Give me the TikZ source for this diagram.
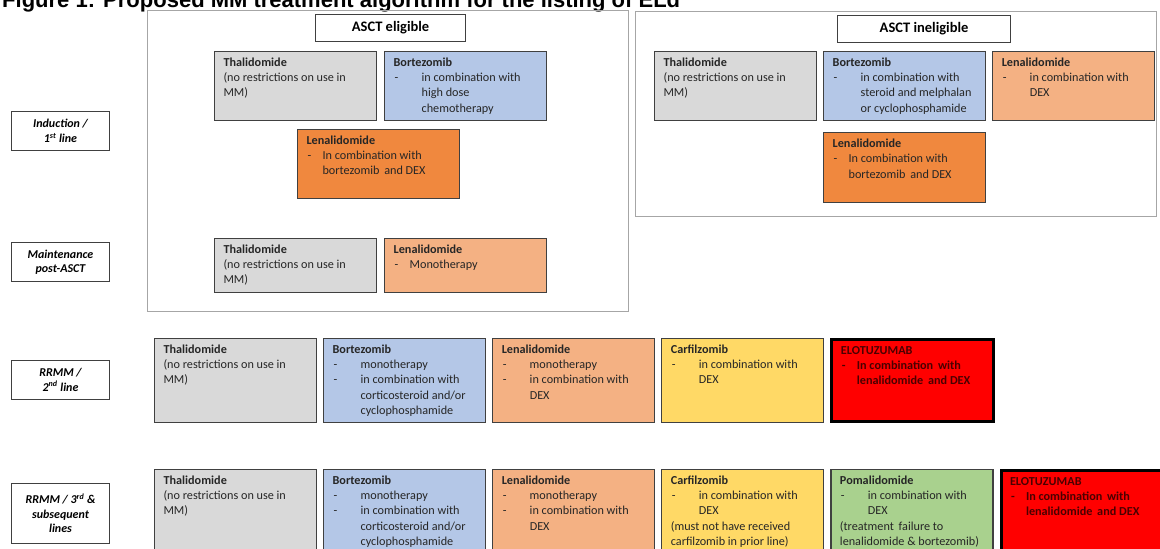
\documentclass[tikz,border=0pt]{standalone}
\usepackage{fontspec}
\setmainfont{Carlito}
\newfontfamily\titlefamily{Liberation Sans}
\usetikzlibrary{positioning}

\definecolor{thalgray}{HTML}{D9D9D9}
\definecolor{bortblue}{HTML}{B4C7E7}
\definecolor{lenlight}{HTML}{F4B183}
\definecolor{lendark}{HTML}{F0883E}
\definecolor{carfyellow}{HTML}{FFD966}
\definecolor{pomagreen}{HTML}{A9D18E}
\definecolor{elored}{HTML}{FF0000}
\definecolor{elotext}{HTML}{4A0000}
\definecolor{boxline}{HTML}{404040}
\definecolor{framegray}{HTML}{A6A6A6}
\definecolor{bodytext}{HTML}{262626}

% box contents: height, drug name, lines
\newcommand{\drug}[3]{\parbox[c][#1][t]{144pt}{\rule{0pt}{12pt}\textbf{#2}\\#3}}
\newcommand{\wideitem}[1]{\makebox[28pt][l]{\hspace{1pt}-}\mbox{#1}}
\newcommand{\wideline}[1]{\hspace*{28pt}\mbox{#1}}
\newcommand{\narrowitem}[1]{\makebox[16pt][l]{\hspace{1pt}-}\mbox{#1}}
\newcommand{\narrowline}[1]{\hspace*{16pt}\mbox{#1}}

\begin{document}
\begin{tikzpicture}[x=1pt,y=-1pt]
	% Define styles
	\tikzstyle{drugbox} = [rectangle, draw=boxline, line width=1.1pt, anchor=north west,
	inner xsep=9pt, inner ysep=3pt, text=bodytext, font=\fontsize{12.2}{15.2}\selectfont]
	\tikzstyle{thal} = [drugbox, fill=thalgray]
	\tikzstyle{bort} = [drugbox, fill=bortblue]
	\tikzstyle{lenl} = [drugbox, fill=lenlight]
	\tikzstyle{lend} = [drugbox, fill=lendark]
	\tikzstyle{carf} = [drugbox, fill=carfyellow]
	\tikzstyle{poma} = [drugbox, fill=pomagreen]
	\tikzstyle{elo} = [drugbox, fill=elored, draw=black, line width=3pt, text=elotext,
	font=\fontsize{12.2}{15.2}\selectfont\bfseries]
	\tikzstyle{stage} = [rectangle, draw=boxline, line width=1pt, anchor=north west,
	minimum width=98pt, align=center, font=\fontsize{12}{14.5}\selectfont\bfseries\itshape]
	\tikzstyle{header} = [rectangle, draw=boxline, line width=1.1pt, anchor=north west,
	minimum height=27pt, font=\fontsize{14.5}{16}\selectfont\bfseries]
	\tikzstyle{frame} = [rectangle, draw=framegray, line width=1.3pt, anchor=north west]
	
	% Page
	\fill[white] (0,0) rectangle (1160,549);
	\clip (0,0) rectangle (1160,549);
	
	% Title (cut at the top edge)
	\node[anchor=base west, inner sep=0pt, font=\titlefamily\bfseries\fontsize{22}{24}\selectfont]
	(title) at (2,7) {Figure 1: Proposed MM treatment algorithm for the listing of ELd};
	
	% Frames and headers
	\node[frame, minimum width=481pt, minimum height=301pt] (eligFrame) at (147,10) {};
	\node[frame, minimum width=521pt, minimum height=205pt] (inelFrame) at (635,11) {};
	\node[header, minimum width=150pt] (eligHead) at (315,14) {ASCT eligible};
	\node[header, minimum width=173pt] (inelHead) at (837,15) {ASCT ineligible};
	
	% Stages
	\node[stage, minimum height=39pt] (induction) at (11,111) {Induction /\\1\textsuperscript{st} line};
	\node[stage, minimum height=39pt] (maintenance) at (11,242) {Maintenance\\post-ASCT};
	\node[stage, minimum height=39pt] (second) at (11,360) {RRMM /\\2\textsuperscript{nd} line};
	\node[stage, minimum height=60pt] (third) at (11,483) {RRMM / 3\textsuperscript{rd} \&\\subsequent\\lines};
	
	% Induction, ASCT eligible
	\node[thal] (thalInd) at (214,51) {\drug{63pt}{Thalidomide}{(no restrictions on use in\\MM)}};
	\node[bort, right=7pt of thalInd] (bortInd) {\drug{63pt}{Bortezomib}{\wideitem{in combination with}\\
		\wideline{high dose}\\\wideline{chemotherapy}}};
	\node[lend] (lenInd) at (297,129) {\drug{63pt}{Lenalidomide}{\narrowitem{In combination with}\\
		\narrowline{bortezomib\, and DEX}}};
	
	% Induction, ASCT ineligible
	\node[thal] (thalInel) at (654,51) {\drug{63pt}{Thalidomide}{(no restrictions on use in\\MM)}};
	\node[bort, right=6pt of thalInel] (bortInel) {\drug{63pt}{Bortezomib}{\wideitem{in combination with}\\
		\wideline{steroid and melphalan}\\\wideline{or cyclophosphamide}}};
	\node[lenl, right=6pt of bortInel] (lenInel) {\drug{63pt}{Lenalidomide}{\wideitem{in combination with}\\
		\wideline{DEX}}};
	\node[lend, below=11pt of bortInel] (lenInelD) {\drug{64pt}{Lenalidomide}{\narrowitem{In combination with}\\
		\narrowline{bortezomib\, and DEX}}};
	
	% Maintenance
	\node[thal] (thalMnt) at (214,238) {\drug{48pt}{Thalidomide}{(no restrictions on use in\\MM)}};
	\node[lenl, right=7pt of thalMnt] (lenMnt) {\drug{48pt}{Lenalidomide}{\narrowitem{Monotherapy}}};
	
	% RRMM 2nd line
	\node[thal] (thalR2) at (154,338) {\drug{78pt}{Thalidomide}{(no restrictions on use in\\MM)}};
	\node[bort, right=6pt of thalR2] (bortR2) {\drug{78pt}{Bortezomib}{\wideitem{monotherapy}\\
		\wideitem{in combination with}\\\wideline{corticosteroid and/or}\\\wideline{cyclophosphamide}}};
	\node[lenl, right=6pt of bortR2] (lenR2) {\drug{78pt}{Lenalidomide}{\wideitem{monotherapy}\\
		\wideitem{in combination with}\\\wideline{DEX}}};
	\node[carf, right=6pt of lenR2] (carfR2) {\drug{78pt}{Carfilzomib}{\wideitem{in combination with}\\
		\wideline{DEX}}};
	\node[elo, right=6pt of carfR2] (eloR2) {\drug{76pt}{ELOTUZUMAB}{\narrowitem{In combination\, with}\\
		\narrowline{lenalidomide\, and DEX}}};
	
	% RRMM 3rd and subsequent lines
	\node[thal] (thalR3) at (154,469) {\drug{94pt}{Thalidomide}{(no restrictions on use in\\MM)}};
	\node[bort, right=6pt of thalR3] (bortR3) {\drug{94pt}{Bortezomib}{\wideitem{monotherapy}\\
		\wideitem{in combination with}\\\wideline{corticosteroid and/or}\\\wideline{cyclophosphamide}}};
	\node[lenl, right=6pt of bortR3] (lenR3) {\drug{94pt}{Lenalidomide}{\wideitem{monotherapy}\\
		\wideitem{in combination with}\\\wideline{DEX}}};
	\node[carf, right=6pt of lenR3] (carfR3) {\drug{94pt}{Carfilzomib}{\wideitem{in combination with}\\
		\wideline{DEX}\\\mbox{(must not have received}\\\mbox{carfilzomib in prior line)}}};
	\node[poma, right=6pt of carfR3] (pomaR3) {\drug{94pt}{Pomalidomide}{\wideitem{in combination with}\\
		\wideline{DEX}\\\mbox{(treatment\, failure to}\\\mbox{lenalidomide \& bortezomib)}}};
	\node[elo, right=6pt of pomaR3] (eloR3) {\drug{92pt}{ELOTUZUMAB}{\narrowitem{In combination\, with}\\
		\narrowline{lenalidomide\, and DEX}}};
\end{tikzpicture}
\end{document}
